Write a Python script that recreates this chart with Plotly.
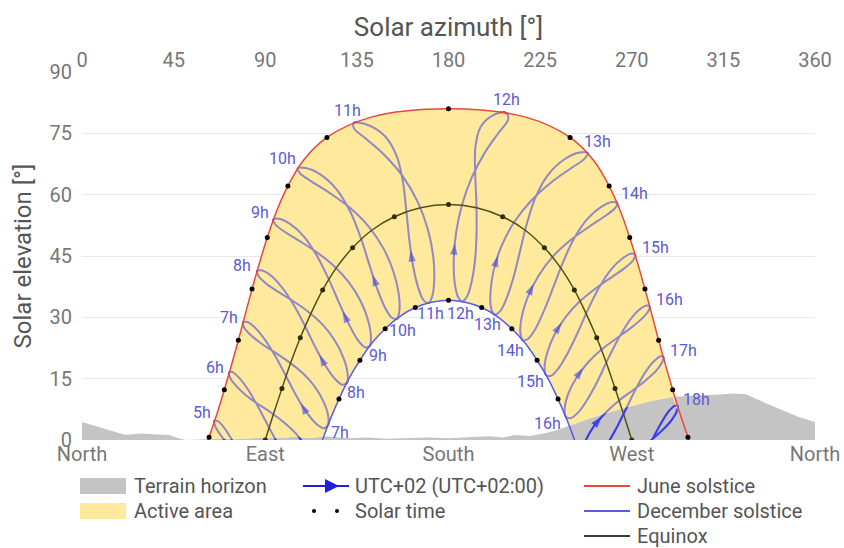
import numpy as np
import plotly.graph_objects as go

# ---------------------------------------------------------------------------
# Sun path data (azimuth / elevation in degrees)
# ---------------------------------------------------------------------------
hours = list(range(5, 19))
day_of_year = [7.75, 26, 44.25, 62.5, 80.75, 99, 117.25, 135.5, 153.75, 172, 190.25, 208.5,
               226.75, 245, 263.25, 281.5, 299.75, 318, 336.25, 354.5]

# analemma for every clock hour (UTC+02), one value per date above
az_05h = [104.1, 100.2, 94.9, 89.3, 83.7, 78.6, 73.8, 69.7, 66.7, 65.1, 65.4, 67.8, 72.1, 77.8, 84.5, 91.4, 97.6, 102.5, 105.4, 106.0]
el_05h = [-20.6, -20.3, -18.2, -14.4, -9.6, -4.5, -0.1, 3.1, 4.6, 4.7, 3.4, 1.4, -1.1, -3.5, -5.9, -8.3, -11.1, -14.1, -17.1, -19.4]
az_06h = [111.2, 107.5, 102.6, 97.2, 91.8, 86.6, 81.6, 77.2, 73.9, 72.3, 72.8, 75.4, 79.9, 85.8, 92.6, 99.4, 105.5, 110.1, 112.7, 113.0]
el_06h = [-8.6, -8.0, -5.7, -1.8, 3.1, 8.0, 12.3, 15.2, 16.6, 16.5, 15.2, 13.4, 11.2, 9.0, 6.8, 4.2, 1.3, -2.0, -5.1, -7.5]
az_07h = [119.0, 115.4, 110.7, 105.5, 100.1, 94.7, 89.3, 84.5, 80.8, 79.1, 79.6, 82.6, 87.5, 93.9, 101.0, 108.1, 114.1, 118.5, 120.8, 120.9]
el_07h = [2.9, 3.8, 6.5, 10.6, 15.7, 20.7, 24.9, 27.7, 28.9, 28.7, 27.5, 25.8, 23.8, 21.7, 19.3, 16.5, 13.2, 9.5, 6.2, 3.8]
az_08h = [128.0, 124.5, 119.9, 114.8, 109.5, 103.8, 97.9, 92.3, 88.0, 86.0, 86.7, 90.1, 95.8, 103.0, 110.8, 118.2, 124.3, 128.4, 130.4, 130.2]
el_08h = [13.5, 14.8, 17.9, 22.5, 27.9, 33.2, 37.5, 40.4, 41.5, 41.3, 40.1, 38.4, 36.4, 34.2, 31.5, 28.2, 24.2, 20.1, 16.5, 14.1]
az_09h = [139.0, 135.4, 131.1, 126.3, 121.1, 115.3, 108.7, 102.0, 96.6, 94.0, 95.0, 99.3, 106.1, 114.5, 123.2, 131.0, 137.0, 140.6, 141.9, 141.3]
el_09h = [22.7, 24.5, 28.3, 33.5, 39.4, 45.1, 49.9, 52.9, 54.1, 53.9, 52.7, 51.0, 48.9, 46.2, 42.8, 38.6, 33.8, 29.1, 25.3, 23.0]
az_10h = [152.2, 148.9, 145.2, 141.3, 137.0, 131.9, 125.2, 117.2, 109.8, 106.0, 107.1, 112.8, 121.4, 131.3, 140.6, 148.1, 153.0, 155.5, 155.9, 154.7]
el_10h = [29.9, 32.3, 36.7, 42.6, 49.3, 55.7, 61.2, 64.9, 66.5, 66.4, 65.2, 63.2, 60.5, 56.9, 52.3, 46.8, 41.1, 35.9, 31.8, 29.7]
az_11h = [167.7, 165.1, 162.7, 160.8, 159.3, 157.6, 154.5, 148.6, 140.1, 133.5, 133.6, 139.9, 148.9, 157.8, 165.0, 169.9, 172.5, 173.0, 172.1, 170.2]
el_11h = [34.2, 37.3, 42.3, 48.8, 56.0, 63.2, 69.5, 74.4, 77.1, 77.5, 76.2, 73.5, 69.5, 64.3, 58.1, 51.4, 44.9, 39.3, 35.3, 33.5]
az_12h = [184.6, 183.0, 182.6, 183.7, 186.7, 191.6, 198.0, 204.7, 209.3, 208.3, 201.8, 195.7, 193.2, 193.1, 193.7, 193.8, 193.1, 191.4, 189.2, 186.8]
el_12h = [35.1, 38.6, 44.0, 50.6, 57.6, 64.4, 70.4, 75.2, 78.4, 80.0, 79.4, 76.5, 71.6, 65.3, 58.2, 51.0, 44.3, 38.8, 35.2, 33.9]
az_13h = [200.9, 200.6, 202.1, 205.9, 212.3, 220.9, 230.7, 240.0, 246.6, 248.4, 244.5, 236.8, 228.8, 222.7, 218.3, 214.9, 211.7, 208.4, 205.2, 202.6]
el_13h = [32.3, 36.0, 41.3, 47.3, 53.3, 58.7, 63.1, 66.4, 68.7, 70.1, 70.3, 68.6, 64.8, 59.3, 52.6, 45.7, 39.4, 34.5, 31.4, 30.7]
az_14h = [215.3, 215.9, 218.8, 224.0, 231.3, 240.0, 248.9, 256.4, 261.4, 262.9, 260.5, 255.0, 248.1, 241.6, 236.0, 231.2, 226.7, 222.6, 219.0, 216.4]
el_14h = [26.3, 30.0, 34.8, 40.0, 44.9, 48.9, 52.1, 54.6, 56.5, 57.8, 58.2, 57.0, 54.0, 49.2, 43.2, 37.0, 31.4, 27.1, 24.7, 24.4]
az_15h = [227.2, 228.6, 232.1, 237.7, 244.9, 252.9, 260.4, 266.6, 270.6, 271.7, 269.9, 265.7, 260.0, 254.1, 248.6, 243.5, 238.6, 234.1, 230.4, 227.9]
el_15h = [17.9, 21.5, 25.8, 30.2, 34.1, 37.3, 39.9, 42.1, 43.9, 45.2, 45.6, 44.5, 41.8, 37.4, 32.0, 26.3, 21.3, 17.6, 15.7, 15.9]
az_16h = [237.1, 238.8, 242.7, 248.4, 255.3, 262.6, 269.3, 274.6, 277.9, 278.8, 277.3, 273.8, 268.9, 263.7, 258.4, 253.3, 248.2, 243.6, 239.8, 237.5]
el_16h = [7.9, 11.3, 15.1, 18.9, 22.2, 24.9, 27.3, 29.5, 31.3, 32.6, 32.9, 31.9, 29.2, 25.0, 19.9, 14.5, 9.9, 6.7, 5.3, 5.8]
az_17h = [245.4, 247.5, 251.6, 257.4, 264.1, 270.9, 277.1, 281.9, 284.8, 285.6, 284.2, 281.0, 276.7, 271.9, 266.9, 261.7, 256.6, 251.7, 247.8, 245.6]
el_17h = [-3.2, 0.0, 3.5, 6.8, 9.8, 12.3, 14.7, 16.9, 18.9, 20.2, 20.5, 19.3, 16.6, 12.4, 7.3, 2.2, -2.1, -5.0, -6.0, -5.3]
az_18h = [252.8, 255.1, 259.5, 265.5, 272.2, 278.9, 284.8, 289.3, 292.0, 292.6, 291.3, 288.3, 284.4, 279.8, 274.9, 269.7, 264.3, 259.2, 255.0, 252.7]
el_18h = [-15.0, -12.0, -8.8, -5.7, -2.9, -0.3, 2.3, 4.7, 6.9, 8.3, 8.4, 7.1, 4.1, -0.2, -5.4, -10.5, -14.6, -17.2, -18.0, -17.2]

# direction arrows on each analemma (late February) and the point just before
arrow_az = [91.3, 99.2, 107.4, 116.7, 128.1, 142.7, 161.4, 183.1, 204.3, 221.9, 235.5, 246.2, 255.2, 263.2]
arrow_el = [-15.9, -3.3, 9.0, 20.8, 31.5, 40.4, 46.4, 48.1, 45.1, 38.2, 28.7, 17.6, 5.7, -6.8]
arrow_prev_az = [92.2, 100.0, 108.2, 117.5, 128.9, 143.4, 161.7, 182.9, 203.7, 221.0, 234.5, 245.3, 254.2, 262.2]
arrow_prev_el = [-16.6, -4.0, 8.3, 20.0, 30.6, 39.4, 45.3, 47.0, 44.1, 37.3, 27.9, 17.0, 5.1, -7.3]

# day paths, sampled in solar time
june_time = [4.9, 5.0, 5.5, 6.0, 6.5, 7.0, 7.5, 8.0, 8.5, 9.0, 9.5, 10.0, 10.5, 11.0, 11.5, 12.0,
             12.5, 13.0, 13.5, 14.0, 14.5, 15.0, 15.5, 16.0, 16.5, 17.0, 17.5, 18.0, 18.5, 19.0, 19.1]
june_az = [61.9, 62.4, 66.3, 69.9, 73.4, 76.8, 80.1, 83.5, 87.1, 91.0, 95.5, 101.1, 108.6, 120.3, 141.7, 180.0,
           218.3, 239.7, 251.4, 258.9, 264.5, 269.0, 272.9, 276.5, 279.9, 283.2, 286.6, 290.1, 293.7, 297.6, 298.1]
june_el = [0.0, 0.7, 6.4, 12.3, 18.3, 24.4, 30.6, 36.9, 43.2, 49.5, 55.9, 62.1, 68.3, 74.0, 78.9, 81.0,
           78.9, 74.0, 68.3, 62.1, 55.9, 49.5, 43.2, 36.9, 30.6, 24.4, 18.3, 12.3, 6.4, 0.7, 0.0]

equinox_time = [6.0, 6.5, 7.0, 7.5, 8.0, 8.5, 9.0, 9.5, 10.0, 10.5, 11.0, 11.5, 12.0,
                12.5, 13.0, 13.5, 14.0, 14.5, 15.0, 15.5, 16.0, 16.5, 17.0, 17.5, 18.0]
equinox_az = [90.0, 94.0, 98.2, 102.5, 107.2, 112.4, 118.2, 124.9, 132.9, 142.3, 153.4, 166.2, 180.0,
              193.8, 206.6, 217.7, 227.1, 235.1, 241.8, 247.6, 252.8, 257.5, 261.8, 266.0, 270.0]
equinox_el = [0.0, 6.3, 12.6, 18.9, 25.0, 30.9, 36.7, 42.1, 47.0, 51.3, 54.6, 56.8, 57.6,
              56.8, 54.6, 51.3, 47.0, 42.1, 36.7, 30.9, 25.0, 18.9, 12.6, 6.3, 0.0]

december_time = [7.1, 7.5, 8.0, 8.5, 9.0, 9.5, 10.0, 10.5, 11.0, 11.5, 12.0,
                 12.5, 13.0, 13.5, 14.0, 14.5, 15.0, 15.5, 16.0, 16.5, 16.9]
december_az = [118.1, 121.7, 126.2, 131.1, 136.5, 142.4, 148.9, 156.0, 163.7, 171.7, 180.0,
               188.3, 196.3, 204.0, 211.1, 217.6, 223.5, 228.9, 233.8, 238.3, 241.9]
december_el = [0.0, 4.8, 10.0, 15.0, 19.5, 23.7, 27.2, 30.2, 32.4, 33.7, 34.2,
               33.7, 32.4, 30.2, 27.2, 23.7, 19.5, 15.0, 10.0, 4.8, 0.0]

# terrain horizon profile
terrain_az = [0, 5, 10, 15, 21, 25, 29, 35, 43, 47, 51, 58, 65, 75, 85, 95, 105, 112, 120, 130, 140,
              150, 160, 170, 180, 190, 200, 207, 212, 220, 228, 233, 240, 250, 260, 268, 280, 290,
              300, 313, 320, 326, 335, 345, 352, 360]
terrain_el = [4.4, 3.7, 3.0, 2.2, 1.3, 1.4, 1.6, 1.4, 1.2, 0.5, 0.0, 0.1, 0.3, 0.2, 0.5, 0.4, 0.8, 0.5,
              0.9, 0.4, 0.6, 0.3, 0.5, 0.6, 0.4, 0.7, 0.9, 0.6, 1.2, 1.0, 1.7, 2.4, 3.6, 5.4, 6.9, 8.1,
              9.6, 10.5, 10.9, 11.1, 11.4, 11.2, 9.2, 7.0, 5.6, 4.4]

azimuth_ticks = [0, 45, 90, 135, 180, 225, 270, 315, 360]
compass_ticks = [0, 90, 180, 270, 360]
compass_labels = ["North", "East", "South", "West", "North"]
elevation_ticks = [0, 15, 30, 45, 60, 75, 90]

# ---------------------------------------------------------------------------
# Styling
# ---------------------------------------------------------------------------
FONT = "Roboto"
HIDDEN_BLUE = "rgb(60,62,232)"          # analemma where the sun is behind the terrain
VISIBLE_BLUE = "rgba(60,62,232,0.52)"   # analemma drawn over the active area
ARROW_BLUE = "rgba(60,62,232,0.78)"
ACTIVE_FILL = "rgba(255,231,150,0.93)"
ACTIVE_SWATCH = "rgb(255,233,155)"
TERRAIN_GRAY = "#c4c4c4"
JUNE_RED = "#e8473b"
DEC_BLUE = "#5b5be6"
EQUINOX_OLIVE = "rgb(82,80,22)"
EQUINOX_GRAY = "#3a3a3a"
LABEL_BLUE = "#5a5ad8"

analemma_az = {5: az_05h, 6: az_06h, 7: az_07h, 8: az_08h, 9: az_09h, 10: az_10h, 11: az_11h,
               12: az_12h, 13: az_13h, 14: az_14h, 15: az_15h, 16: az_16h, 17: az_17h, 18: az_18h}
analemma_el = {5: el_05h, 6: el_06h, 7: el_07h, 8: el_08h, 9: el_09h, 10: el_10h, 11: el_11h,
               12: el_12h, 13: el_13h, 14: el_14h, 15: el_15h, 16: el_16h, 17: el_17h, 18: el_18h}

# hour-label placement (pixel offsets from the solstice end of each analemma)
june_label_shift = {5: (-13, 8), 6: (-14, 5), 7: (-14, 5), 8: (-15, 6), 9: (-13, 7), 10: (-15, 10),
                    11: (-6, 13), 12: (0, 13), 13: (10, 12), 14: (17, 10), 15: (20, 8),
                    16: (20, 7), 17: (20, 7), 18: (19, 7)}
dec_label_shift = {7: (12, -8), 8: (9, -10), 9: (8, -10), 10: (6, -12), 11: (2, -10), 12: (-2, -12),
                   13: (-7, -10), 14: (-12, -10), 15: (-16, -7), 16: (-18, -7)}

fig = go.Figure()

# terrain horizon
fig.add_trace(go.Scatter(
    x=terrain_az + [360, 0], y=terrain_el + [-1, -1], mode="lines", fill="toself",
    fillcolor=TERRAIN_GRAY, line=dict(width=0), hoverinfo="skip", showlegend=False))

# analemmas: closed loops, started at the spring equinox so the seam sits on a straight branch
start = day_of_year.index(80.75)
ax_all, ay_all = [], []
for h in hours:
    order = list(range(start, len(day_of_year))) + list(range(0, start)) + [start]
    ax_all += [analemma_az[h][i] for i in order] + [None]
    ay_all += [analemma_el[h][i] for i in order] + [None]

arr_x, arr_y, arr_s = [], [], []
for pa, pe, a, e in zip(arrow_prev_az, arrow_prev_el, arrow_az, arrow_el):
    arr_x += [pa, a]
    arr_y += [pe, e]
    arr_s += [0, 12]


def analemma_traces(line_color, arrow_color):
    fig.add_trace(go.Scatter(
        x=ax_all, y=ay_all, mode="lines", line=dict(color=line_color, width=2, shape="spline"),
        hoverinfo="skip", showlegend=False))
    fig.add_trace(go.Scatter(
        x=arr_x, y=arr_y, mode="markers",
        marker=dict(symbol="arrow", size=arr_s, color=arrow_color, angleref="previous",
                    line=dict(width=0)),
        hoverinfo="skip", showlegend=False))


# solid analemmas first: only the parts behind the terrain stay uncovered
analemma_traces(HIDDEN_BLUE, HIDDEN_BLUE)

# active area: between the June path and the higher of December path / terrain,
# never rising above the June path itself
lo_az = sorted(set(december_az) | {a for a in terrain_az if june_az[0] < a < june_az[-1]}
               | {june_az[0], june_az[-1]})
dec_lo = np.interp(lo_az, december_az, december_el, left=0.0, right=0.0)
ter_lo = np.interp(lo_az, terrain_az, terrain_el)
jun_hi = np.interp(lo_az, june_az, june_el)
lo_el = np.minimum(np.maximum(dec_lo, ter_lo), jun_hi)
fig.add_trace(go.Scatter(
    x=lo_az, y=lo_el, mode="lines", line=dict(width=0, color="rgba(0,0,0,0)"),
    hoverinfo="skip", showlegend=False))
fig.add_trace(go.Scatter(
    x=june_az, y=june_el, mode="lines", fill="tonexty", fillcolor=ACTIVE_FILL,
    line=dict(width=0, shape="spline", color="rgba(0,0,0,0)"), hoverinfo="skip", showlegend=False))

# translucent analemmas over the active area
analemma_traces(VISIBLE_BLUE, ARROW_BLUE)

# equinox path with solar-hour dots
fig.add_trace(go.Scatter(
    x=equinox_az, y=equinox_el, mode="lines", line=dict(color=EQUINOX_OLIVE, width=1.5, shape="spline"),
    hoverinfo="skip", showlegend=False))
eq_hour = [i for i, t in enumerate(equinox_time) if float(t).is_integer()]
fig.add_trace(go.Scatter(
    x=[equinox_az[i] for i in eq_hour], y=[equinox_el[i] for i in eq_hour], mode="markers",
    marker=dict(color="rgb(45,45,10)", size=5), hoverinfo="skip", showlegend=False))

# solstice paths with solar-hour dots
fig.add_trace(go.Scatter(
    x=june_az, y=june_el, mode="lines", line=dict(color=JUNE_RED, width=1.5, shape="spline"),
    hoverinfo="skip", showlegend=False))
fig.add_trace(go.Scatter(
    x=december_az, y=december_el, mode="lines", line=dict(color=DEC_BLUE, width=1.5, shape="spline"),
    hoverinfo="skip", showlegend=False))
jn_hour = [i for i, t in enumerate(june_time) if float(t).is_integer()]
dc_hour = [i for i, t in enumerate(december_time) if float(t).is_integer()]
fig.add_trace(go.Scatter(
    x=[june_az[i] for i in jn_hour] + [december_az[i] for i in dc_hour],
    y=[june_el[i] for i in jn_hour] + [december_el[i] for i in dc_hour],
    mode="markers", marker=dict(color="black", size=5), hoverinfo="skip", showlegend=False))

# hour labels at both solstice ends of each analemma
i_jun = day_of_year.index(172)
i_dec = day_of_year.index(354.5)
for h in hours:
    if h in june_label_shift and analemma_el[h][i_jun] > 0:
        dx, dy = june_label_shift[h]
        fig.add_annotation(x=analemma_az[h][i_jun], y=analemma_el[h][i_jun], text=f"{h}h",
                           showarrow=False, xshift=dx, yshift=dy,
                           font=dict(family=FONT, size=16, color=LABEL_BLUE))
    if h in dec_label_shift and analemma_el[h][i_dec] > 0:
        dx, dy = dec_label_shift[h]
        fig.add_annotation(x=analemma_az[h][i_dec], y=analemma_el[h][i_dec], text=f"{h}h",
                           showarrow=False, xshift=dx, yshift=dy,
                           font=dict(family=FONT, size=16, color=LABEL_BLUE))

# ---------------------------------------------------------------------------
# Legend (three columns below the plot)
# ---------------------------------------------------------------------------
ML, MR, MT, MB, W, H = 82, 29, 72, 108, 844, 548
PW, PH = W - ML - MR, H - MT - MB

def px(x):
    return (x - ML) / PW

def py(y):
    return (H - MB - y) / PH

LEG_TEXT = dict(family=FONT, size=20, color="#555555")
rows = [486, 511, 536]

fig.add_shape(type="rect", xref="paper", yref="paper", x0=px(80), x1=px(126), y0=py(494), y1=py(478),
              fillcolor=TERRAIN_GRAY, line=dict(width=0))
fig.add_shape(type="rect", xref="paper", yref="paper", x0=px(80), x1=px(126), y0=py(519), y1=py(503),
              fillcolor=ACTIVE_SWATCH, line=dict(width=0))
fig.add_shape(type="line", xref="paper", yref="paper", x0=px(303), x1=px(349), y0=py(rows[0]), y1=py(rows[0]),
              line=dict(color="#1f1fe0", width=2))
fig.add_annotation(xref="paper", yref="paper", x=px(339), y=py(rows[0]), ax=-17, ay=0,
                   axref="pixel", ayref="pixel", showarrow=True, arrowhead=2, arrowsize=1.4,
                   arrowwidth=2, arrowcolor="#1f1fe0", text="")
for dxp in (314, 337):
    fig.add_shape(type="circle", xref="paper", yref="paper", x0=px(dxp - 2), x1=px(dxp + 2),
                  y0=py(rows[1] + 2), y1=py(rows[1] - 2), fillcolor="black", line=dict(width=0))
for yy, col in zip(rows, [JUNE_RED, DEC_BLUE, EQUINOX_GRAY]):
    fig.add_shape(type="line", xref="paper", yref="paper", x0=px(584), x1=px(630), y0=py(yy), y1=py(yy),
                  line=dict(color=col, width=2))

legend_items = [(132, rows[0], "Terrain horizon"), (132, rows[1], "Active area"),
                (353, rows[0], "UTC+02 (UTC+02:00)"), (353, rows[1], "Solar time"),
                (635, rows[0], "June solstice"), (635, rows[1], "December solstice"),
                (635, rows[2], "Equinox")]
for lx, ly, txt in legend_items:
    fig.add_annotation(xref="paper", yref="paper", x=px(lx), y=py(ly), text=txt, showarrow=False,
                       xanchor="left", yanchor="middle", font=LEG_TEXT)

# ---------------------------------------------------------------------------
# Axes and layout
# ---------------------------------------------------------------------------
fig.update_layout(
    width=W, height=H, margin=dict(l=ML, r=MR, t=MT, b=MB, autoexpand=False),
    plot_bgcolor="white", paper_bgcolor="white", showlegend=False,
    font=dict(family=FONT, color="#555555"),
    xaxis=dict(range=[0, 360], tickvals=compass_ticks, ticktext=compass_labels,
               showgrid=False, zeroline=False, showline=False, ticks="", automargin=False,
               tickfont=dict(family=FONT, size=20, color="#777777")),
    xaxis2=dict(range=[0, 360], overlaying="x", side="top", tickvals=azimuth_ticks,
                showgrid=False, zeroline=False, showline=False, ticks="", automargin=False,
                tickfont=dict(family=FONT, size=20, color="#777777"),
                title=dict(text="Solar azimuth [°]", font=dict(family=FONT, size=26, color="#555555"),
                           standoff=3)),
    yaxis=dict(range=[0, 90], tickvals=elevation_ticks, showgrid=True, gridcolor="#e8e8e8",
               gridwidth=1, zeroline=False, showline=False, ticks="", ticklabelstandoff=9,
               automargin=False, tickfont=dict(family=FONT, size=20, color="#777777"),
               title=dict(text="Solar elevation [°]", font=dict(family=FONT, size=24, color="#555555"),
                          standoff=11)),
)
fig.add_trace(go.Scatter(x=[None], y=[None], xaxis="x2", showlegend=False, hoverinfo="skip"))

fig.write_html("out.html")
